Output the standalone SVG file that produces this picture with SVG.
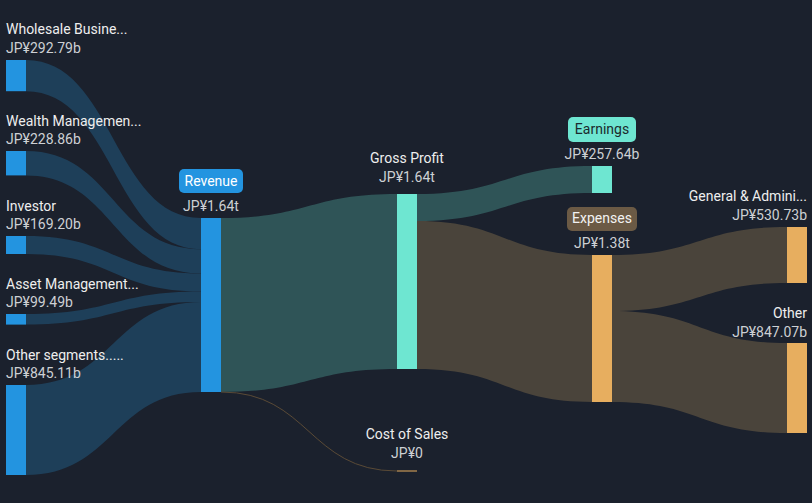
<svg xmlns="http://www.w3.org/2000/svg" width="812" height="503" viewBox="0 0 812 503">
<style>
text{font-family:Roboto,"Liberation Sans",sans-serif;font-size:14px}
.n{fill:#eeeeee}
.v{fill:#cdd0d4}
.m{text-anchor:middle}
.e{text-anchor:end}
.fb{fill:#1e3f59}
.ft{fill:#2f5457}
.fo{fill:#4a443b}
.nb{fill:#2394e0}
.nt{fill:#6ee6d1}
.no{fill:#e7ae5f}
</style>
<rect width="812" height="503" fill="#1b212d"/>
<g id="connectors">
<path class="fb" d="M26,60 C113.5,60 113.5,218 201,218 L201,249.2 C113.5,249.2 113.5,91.2 26,91.2 Z"/>
<path class="fb" d="M26,151 C113.5,151 113.5,249.2 201,249.2 L201,273.5 C113.5,273.5 113.5,175.4 26,175.4 Z"/>
<path class="fb" d="M26,236 C113.5,236 113.5,273.5 201,273.5 L201,291.5 C113.5,291.5 113.5,254 26,254 Z"/>
<path class="fb" d="M26,314 C113.5,314 113.5,291.5 201,291.5 L201,302.1 C113.5,302.1 113.5,324.6 26,324.6 Z"/>
<path class="fb" d="M26,385 C113.5,385 113.5,302.1 201,302.1 L201,392 C113.5,392 113.5,475 26,475 Z"/>
<path class="ft" d="M221,218 C309,218 309,194 397,194 L397,369 C309,369 309,392 221,392 Z"/>
<path d="M221,392 C309,392 309,471 397,471" fill="none" stroke="#5a4a36" stroke-width="1"/>
<path class="ft" d="M417,194 C504.5,194 504.5,166 592,166 L592,193 C504.5,193 504.5,221 417,221 Z"/>
<path class="fo" d="M417,221 C504.5,221 504.5,255 592,255 L592,402 C504.5,402 504.5,369 417,369 Z"/>
<path class="fo" d="M612,255 C699.5,255 699.5,227 787,227 L787,283 C699.5,283 699.5,311 612,311 Z"/>
<path class="fo" d="M612,311 C699.5,311 699.5,343 787,343 L787,433 C699.5,433 699.5,402 612,402 Z"/>
</g>
<g id="wholesale">
<rect class="nb" x="6" y="60" width="20" height="31.2"/>
<text class="n" x="6" y="34">Wholesale Busine...</text>
<text class="v" x="6" y="53">JP¥292.79b</text>
</g>
<g id="wealth">
<rect class="nb" x="6" y="151" width="20" height="24.4"/>
<text class="n" x="6" y="126">Wealth Managemen...</text>
<text class="v" x="6" y="144">JP¥228.86b</text>
</g>
<g id="investor">
<rect class="nb" x="6" y="236" width="20" height="18"/>
<text class="n" x="6" y="211">Investor</text>
<text class="v" x="6" y="229">JP¥169.20b</text>
</g>
<g id="asset">
<rect class="nb" x="6" y="314" width="20" height="10.6"/>
<text class="n" x="6" y="289">Asset Management...</text>
<text class="v" x="6" y="307">JP¥99.49b</text>
</g>
<g id="other-segments">
<rect class="nb" x="6" y="385" width="20" height="90"/>
<text class="n" x="6" y="360">Other segments.....</text>
<text class="v" x="6" y="378">JP¥845.11b</text>
</g>
<g id="revenue">
<rect class="nb" x="201" y="218" width="20" height="174"/>
<rect x="179" y="169" width="64" height="24" rx="5" fill="#2394e0"/>
<text class="m" x="211" y="186" fill="#ffffff">Revenue</text>
<text class="v m" x="211" y="211">JP¥1.64t</text>
</g>
<g id="gross-profit">
<rect class="nt" x="397" y="194" width="20" height="175"/>
<text class="n m" x="407" y="163">Gross Profit</text>
<text class="v m" x="407" y="182">JP¥1.64t</text>
</g>
<g id="cost-of-sales">
<rect class="no" x="397" y="470.5" width="20" height="1"/>
<text class="n m" x="407" y="439">Cost of Sales</text>
<text class="v m" x="407" y="458">JP¥0</text>
</g>
<g id="earnings">
<rect class="nt" x="592" y="166" width="20" height="27"/>
<rect x="568" y="117" width="68" height="25" rx="5" fill="#6ee6d1"/>
<text class="m" x="602" y="134" fill="#1b2a2d">Earnings</text>
<text class="v m" x="602" y="159">JP¥257.64b</text>
</g>
<g id="expenses">
<rect class="no" x="592" y="255" width="20" height="147"/>
<rect x="567" y="207" width="70" height="24" rx="5" fill="#6b5a45"/>
<text class="m" x="602" y="223" fill="#f2f2f2">Expenses</text>
<text class="v m" x="602" y="248">JP¥1.38t</text>
</g>
<g id="general-admin">
<rect class="no" x="787" y="227" width="20" height="56"/>
<text class="n e" x="807" y="201">General &amp; Admini...</text>
<text class="v e" x="807" y="220">JP¥530.73b</text>
</g>
<g id="other">
<rect class="no" x="787" y="343" width="20" height="90"/>
<text class="n e" x="807" y="318">Other</text>
<text class="v e" x="807" y="337">JP¥847.07b</text>
</g>
</svg>
